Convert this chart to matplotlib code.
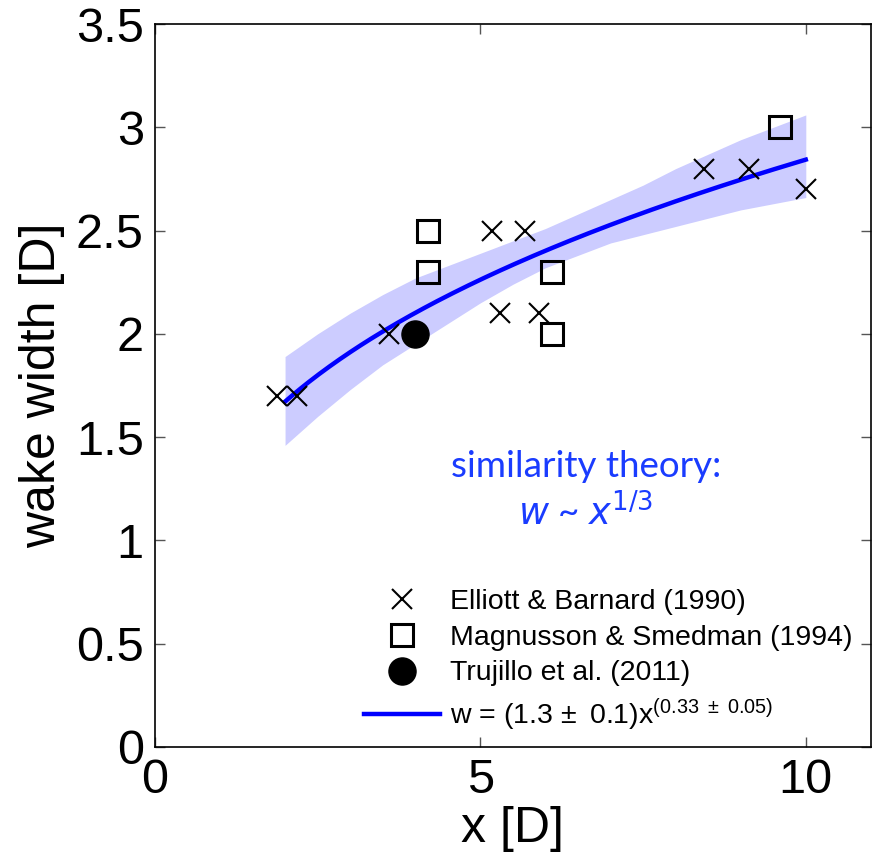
import numpy as np
import matplotlib
matplotlib.use("Agg")
import matplotlib.pyplot as plt

plt.rcParams["font.family"] = ["Liberation Sans", "DejaVu Sans"]
plt.rcParams["mathtext.fontset"] = "custom"
plt.rcParams["mathtext.rm"] = "Liberation Sans"
plt.rcParams["mathtext.it"] = "Liberation Sans:italic"

# ── data ─────────────────────────────────────────────────────────────────────
eb_x = [1.88, 2.18, 3.6, 5.18, 5.69, 5.3, 5.9, 8.43, 9.12, 10.0]
eb_w = [1.7, 1.7, 2.0, 2.5, 2.5, 2.1, 2.1, 2.8, 2.8, 2.7]

ms_x = [4.2, 4.2, 6.1, 6.1, 9.6]
ms_w = [2.5, 2.3, 2.3, 2.0, 3.0]

tr_x = [4.0]
tr_w = [2.0]

# power-law fit w = a x^b and its confidence band
fit_a, fit_b = 1.33, 0.33
band_x  = [2, 2.5, 3, 3.5, 4, 4.5, 5, 5.5, 6, 6.5, 7, 7.5, 8, 8.5, 9, 9.5, 10]
band_lo = [1.46, 1.60, 1.73, 1.85, 1.95, 2.05, 2.15, 2.24, 2.32, 2.38, 2.44,
           2.48, 2.52, 2.56, 2.60, 2.63, 2.66]
band_hi = [1.89, 2.00, 2.10, 2.19, 2.27, 2.33, 2.39, 2.45, 2.51, 2.58, 2.65,
           2.72, 2.80, 2.87, 2.94, 3.00, 3.06]

# ── plot ─────────────────────────────────────────────────────────────────────
fig = plt.figure(figsize=(8.75, 8.59), dpi=100)
ax = fig.add_axes([0.177, 0.1305, 0.8183, 0.8415])

ax.fill_between(band_x, band_lo, band_hi, color="#ccccff", lw=0, zorder=1)

xf = np.linspace(2, 10, 200)
fit_line, = ax.plot(xf, fit_a * xf ** fit_b, color="#0000ff", lw=3.2, zorder=2,
                    label=r"w = (1.3$\,\pm$ 0.1)x$^{(0.33\ \pm\ 0.05)}$")

h_eb, = ax.plot(eb_x, eb_w, "x", color="k", ms=14.5, mew=1.5, ls="none",
                zorder=3, label="Elliott & Barnard (1990)")
h_ms, = ax.plot(ms_x, ms_w, "s", mec="k", mfc="none", ms=16, mew=2.2,
                ls="none", zorder=3, label="Magnusson & Smedman (1994)")
h_tr, = ax.plot(tr_x, tr_w, "o", color="k", ms=19.5, ls="none", zorder=3,
                label="Trujillo et al. (2011)")

ax.text(6.62, 1.307, "similarity theory:", color="#1a3cff", fontsize=26.5,
        family="Lato", ha="center", va="baseline")
ax.text(6.62, 1.07, r"$w$ ~ $x^{1/3}$", color="#1a3cff", fontsize=26.5,
        family="Lato", ha="center", va="baseline",
        math_fontfamily="dejavusans")

ax.set_xlim(0, 11)
ax.set_ylim(0, 3.5)
ax.set_xticks([0, 5, 10])
ax.set_yticks(np.arange(0, 3.51, 0.5))
ax.set_yticklabels(["0", "0.5", "1", "1.5", "2", "2.5", "3", "3.5"])
ax.tick_params(direction="in", length=7, width=1, color="#555555",
               labelsize=35, top=True, right=True, pad=8)
for s in ax.spines.values():
    s.set_linewidth(1.2)

ax.set_xlabel("x [D]", fontsize=36, labelpad=2)
ax.set_ylabel("wake width [D]", fontsize=36, labelpad=8)

ax.legend(handles=[h_eb, h_ms, h_tr, fit_line], loc="lower left",
          bbox_to_anchor=(0.272, 0.0), frameon=False, fontsize=20.5,
          handlelength=2.67, handletextpad=0.35, labelspacing=0.34,
          borderaxespad=0.1)

fig.savefig("out.png", dpi=100)
